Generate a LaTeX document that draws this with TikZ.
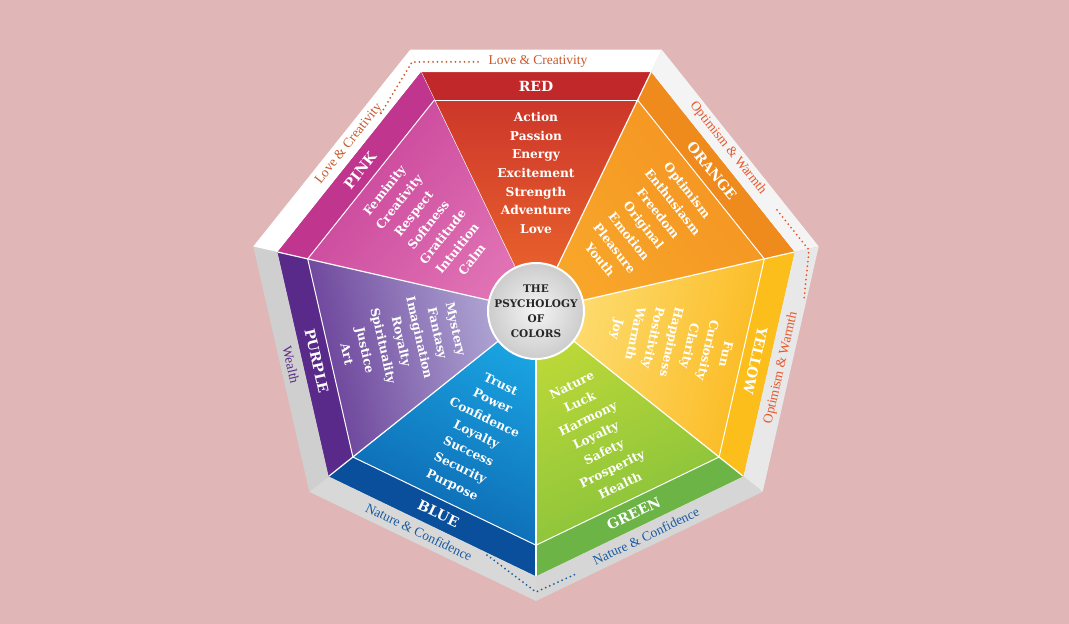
\documentclass[tikz,border=0pt]{standalone}
\usepackage{fontspec}
\setmainfont{DejaVu Serif}
\newfontfamily\framefont{Liberation Serif}
\definecolor{bgpink}{HTML}{E0B6B6}
\definecolor{loveC}{HTML}{C8582A}
\definecolor{optC}{HTML}{E8552A}
\definecolor{wealthC}{HTML}{5A2A86}
\definecolor{natC}{HTML}{1A5AA0}
\tikzset{
  band label/.style={text=white,inner sep=1pt,font=\bfseries\fontsize{14}{14}\selectfont},
  body text/.style={text=white,align=center,inner sep=1pt,font=\bfseries\fontsize{12.2}{18.6}\selectfont},
  frame text/.style={inner sep=1pt,font=\framefont\fontsize{13.5}{13.5}\selectfont},
  dots/.style={line width=2pt,line cap=round,dash pattern=on 0pt off 4.5pt}
}

\begin{document}
\begin{tikzpicture}[x=1pt,y=1pt]
% background
\path[use as bounding box,fill=bgpink] (-536,-313) rectangle (533,311);

% sectors, bands and frame
\foreach \i/\rot/\lab/\body/\co/\ci/\cb/\cf in {
  0/0/RED/{Action\\Passion\\Energy\\Excitement\\Strength\\Adventure\\Love}/C8302A/EE6A2C/C0282A/FFFFFF,
  1/-51.43/ORANGE/{Optimism\\Enthusiasm\\Freedom\\Original\\Emotion\\Pleasure\\Youth}/F39020/F8A62A/EF8A1C/F4F4F4,
  2/-102.86/YELLOW/{Fun\\Curiosity\\Clarity\\Happiness\\Positivity\\Warmth\\Joy}/FBB515/FDE07A/FBBE1A/E8E8E8,
  3/25.71/GREEN/{Nature\\Luck\\Harmony\\Loyalty\\Safety\\Prosperity\\Health}/7DBE3C/BCD838/6CB446/D6D6D6,
  4/-25.71/BLUE/{Trust\\Power\\Confidence\\Loyalty\\Success\\Security\\Purpose}/0A5AA6/1AA4E2/0A4F9C/D8D8D8,
  5/-77.14/PURPLE/{Mystery\\Fantasy\\Imagination\\Royalty\\Spirituality\\Justice\\Art}/5E2E8E/B8B4DC/5A2A8A/CFCFCF,
  6/51.43/PINK/{Feminity\\Creativity\\Respect\\Softness\\Gratitude\\Intuition\\Calm}/C43A94/E072B4/C0368E/FFFFFF}{
  \pgfmathsetmacro{\aone}{115.714-51.4286*\i}
  \pgfmathsetmacro{\atwo}{\aone-51.4286}
  \pgfmathsetmacro{\amid}{90-51.4286*\i}
  \pgfmathsetmacro{\sang}{\amid-90}
  \definecolor{co}{HTML}{\co}
  \definecolor{ci}{HTML}{\ci}
  \definecolor{cb}{HTML}{\cb}
  \definecolor{cf}{HTML}{\cf}
  \fill[cf] (\aone:290) -- (\atwo:290) -- (\atwo:265) -- (\aone:265) -- cycle;
  \shade[top color=co,bottom color=ci,shading angle=\sang] (0,0) -- (\aone:265) -- (\atwo:265) -- cycle;
  \fill[cb] (\aone:265) -- (\atwo:265) -- (\atwo:234.2) -- (\aone:234.2) -- cycle;
  \draw[white,line width=1pt] (\aone:234.2) -- (\atwo:234.2);
  \draw[white,line width=1.2pt] (0,0) -- (\aone:265);
  \node[band label,rotate=\rot] (lbl\i) at (\amid:225) {\lab};
  \node[body text,rotate=\rot] (txt\i) at (\amid:138) {\body};
}

% centre
\shade[inner color=gray!8,outer color=gray!40,draw=white,line width=2pt] (0,0) circle (48);
\node[align=center,text=black!85,inner sep=1pt,font=\bfseries\fontsize{10.5}{15}\selectfont] (title) at (0,0)
  {THE\\PSYCHOLOGY\\OF\\COLORS};

% frame labels
\node[frame text,text=loveC] (loveT) at (2,250) {Love \& Creativity};
\node[frame text,text=loveC,rotate=51.43] (loveL) at (-187,167) {Love \& Creativity};
\node[frame text,text=optC,rotate=-51.43] (optT) at (192,163) {Optimism \& Warmth};
\node[frame text,text=optC,rotate=77.14] (optR) at (245,-57) {Optimism \& Warmth};
\node[frame text,text=wealthC,rotate=-77.14] (wealth) at (-245,-54) {Wealth};
\node[frame text,text=natC,rotate=-25.71] (natL) at (-117,-221) {Nature \& Confidence};
\node[frame text,text=natC,rotate=25.71] (natR) at (110,-225) {Nature \& Confidence};

% dotted links
\coordinate (d1) at (-58,249);
\coordinate (c1) at (-124,249);
\coordinate (e1) at (-156,196);
\coordinate (d2) at (241,101);
\coordinate (c2) at (273,61);
\coordinate (e2) at (268,11);
\coordinate (d3) at (-49,-244);
\coordinate (c3) at (0,-281);
\coordinate (e3) at (42,-262);
\draw[dots,loveC] (d1) -- (c1) -- (e1);
\draw[dots,optC] (d2) -- (c2) -- (e2);
\draw[dots,natC] (d3) -- (c3) -- (e3);
\end{tikzpicture}
\end{document}
